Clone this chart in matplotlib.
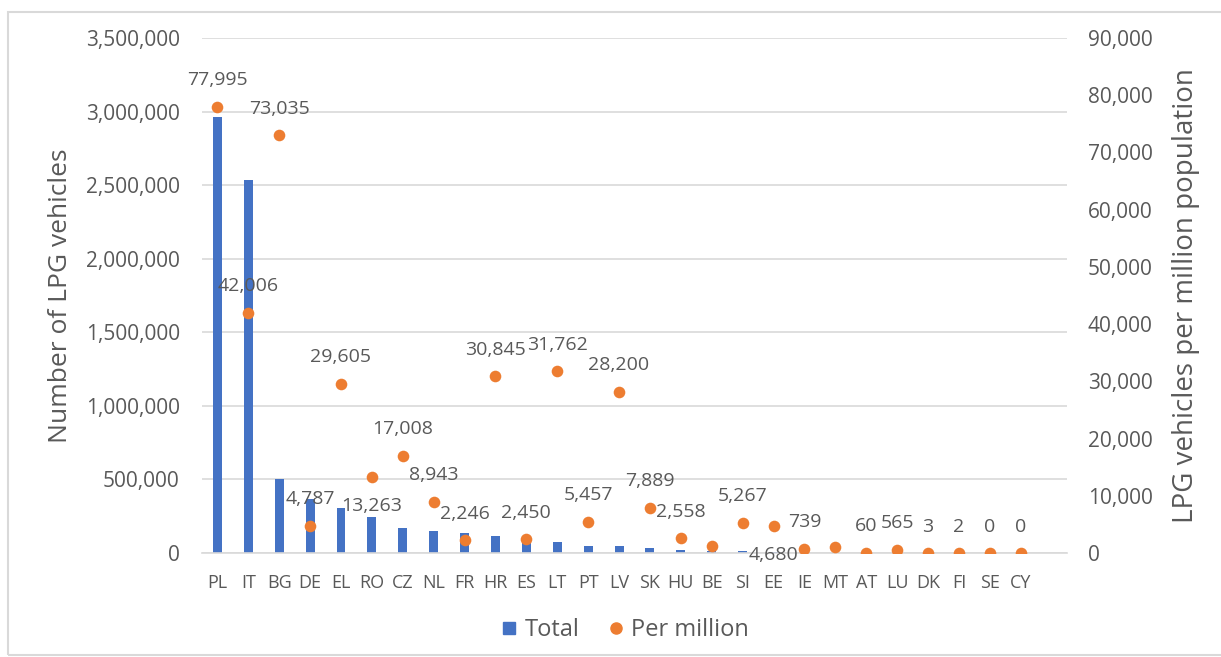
import numpy as np
import matplotlib
matplotlib.use("Agg")
import matplotlib.pyplot as plt
from matplotlib.lines import Line2D
from matplotlib.patches import Rectangle
from matplotlib.ticker import FuncFormatter, MultipleLocator

# Values
countries = ["PL", "IT", "BG", "DE", "EL", "RO", "CZ", "NL", "FR", "HR", "ES", "LT", "PT", "LV",
             "SK", "HU", "BE", "SI", "EE", "IE", "MT", "AT", "LU", "DK", "FI", "SE", "CY"]
total = [2965000, 2535000, 503000, 370000, 308000, 245000, 173000, 148000, 139000, 118000,
         98000, 75000, 45000, 47000, 34000, 23000, 14000, 11000, 6000, 3600, 600, 530,
         350, 20, 10, 0, 0]
per_million = [77995, 42006, 73035, 4787, 29605, 13263, 17008, 8943, 2246, 30845, 2450, 31762,
               5457, 28200, 7889, 2558, 1300, 5267, 4680, 739, 1100, 60, 565, 3, 2, 0, 0]
# which points carry a data label in the original, and where it sits
label_shown = [True] * 16 + [False] + [True] * 3 + [False] + [True] * 6
label_below = {"RO", "EE"}

BLUE = "#4472C4"
ORANGE = "#ED7D31"
GREY = "#595959"
GRID = "#D9D9D9"

plt.rcParams.update({
    "font.family": ["Open Sans", "DejaVu Sans"],
    "text.color": GREY,
    "axes.labelcolor": GREY,
    "xtick.color": GREY,
    "ytick.color": GREY,
})

fig = plt.figure(figsize=(12.21, 6.57), dpi=100)
ax = fig.add_axes([0.1654, 0.1583, 0.8739 - 0.1654, 0.9422 - 0.1583])
ax2 = ax.twinx()

x = np.arange(len(countries))
ax.bar(x, total, width=0.29, color=BLUE, zorder=2)
ax2.scatter(x, per_million, s=70, color=ORANGE, zorder=3, linewidths=0)

for i, (c, v) in enumerate(zip(countries, per_million)):
    if not label_shown[i]:
        continue
    dy = -21 if c in label_below else 19
    ax2.annotate(f"{v:,.0f}", xy=(i, v), xytext=(0, dy), textcoords="offset points",
                 ha="center", va="center", fontsize=14, color=GREY)

ax.set_xlim(-0.5, 27.5)
ax.set_ylim(0, 3500000)
ax2.set_ylim(0, 90000)
ax.yaxis.set_major_locator(MultipleLocator(500000))
ax2.yaxis.set_major_locator(MultipleLocator(10000))
fmt = FuncFormatter(lambda v, p: f"{v:,.0f}")
ax.yaxis.set_major_formatter(fmt)
ax2.yaxis.set_major_formatter(fmt)

ax.set_xticks(x)
ax.set_xticklabels(countries, fontsize=13)
ax.tick_params(axis="x", length=0, pad=15)
ax.tick_params(axis="y", length=0, pad=16, labelsize=15)
ax2.tick_params(axis="y", length=0, pad=15, labelsize=15)

ax.grid(axis="y", color=GRID, linewidth=1.2, zorder=0)
ax.set_axisbelow(True)
for a in (ax, ax2):
    for s in a.spines.values():
        s.set_visible(False)
ax.spines["bottom"].set_visible(True)
ax.spines["bottom"].set_color(GRID)
ax.spines["bottom"].set_linewidth(1.2)

ax.set_ylabel("Number of LPG vehicles", fontsize=19, labelpad=9)
ax2.set_ylabel("LPG vehicles per million population", fontsize=20, labelpad=14)

handles = [
    Line2D([], [], marker="s", linestyle="none", color=BLUE, markersize=9),
    Line2D([], [], marker="o", linestyle="none", color=ORANGE, markersize=8),
]
fig.legend(handles, ["Total", "Per million"], loc="center", bbox_to_anchor=(0.512, 0.041),
           ncol=2, frameon=False, fontsize=17, handlelength=0.7, handletextpad=0.3,
           columnspacing=1.2)

fig.patches.append(Rectangle((0.0066, 0.003), 1.1, 0.9787, transform=fig.transFigure,
                             fill=False, edgecolor=GRID, linewidth=1.5))

fig.savefig("out.png", dpi=100, facecolor="white")
